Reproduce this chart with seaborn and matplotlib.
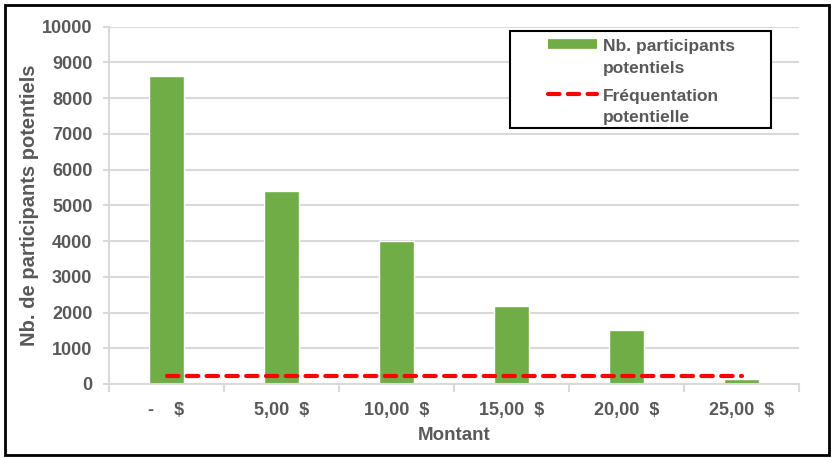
import matplotlib
matplotlib.use("Agg")
import matplotlib.pyplot as plt
from matplotlib.lines import Line2D
from matplotlib.patches import Rectangle
from matplotlib.legend_handler import HandlerLine2D
import numpy as np
import pandas as pd
import seaborn as sns

# Amount categories (accounting format labels)
montants = ["-    $", "5,00  $", "10,00  $", "15,00  $", "20,00  $", "25,00  $"]
# Potential participants per amount
participants = [8620, 5400, 4000, 2180, 1510, 130]
# Potential attendance (flat level)
frequentation = [210, 210, 210, 210, 210, 210]

sns.set_theme(style="white")
plt.rcParams["font.family"] = ["Liberation Sans", "DejaVu Sans"]
plt.rcParams["font.weight"] = "bold"

TEXT = "#595959"
GRID = "#d9d9d9"
GREEN = "#70ad47"
RED = "#ff0000"
DASH = (0, (2.75, 2.0))

W, H = 840, 458

df = pd.DataFrame({"Montant": montants, "Participants": participants,
                   "pos": np.arange(len(montants)), "Frequentation": frequentation})

fig = plt.figure(figsize=(W / 100, H / 100), dpi=100)
ax = fig.add_axes([109 / W, 74 / H, 690 / W, 357.3 / H])

sns.barplot(data=df, x="Montant", y="Participants", color=GREEN, width=0.31,
            saturation=1, ax=ax, zorder=2)
sns.lineplot(data=df, x="pos", y="Frequentation", color=RED, linewidth=3,
             linestyle=DASH, dash_capstyle="round", ax=ax, zorder=3)

ax.set_xlim(-0.5, len(montants) - 0.5)
ax.set_ylim(0, 10000)
ax.set_yticks(np.arange(0, 10001, 1000))
ax.yaxis.grid(True, color=GRID, linewidth=1.5, zorder=0)
ax.xaxis.grid(False)

for side in ["top", "right"]:
    ax.spines[side].set_visible(False)
ax.spines["left"].set_color(GRID)
ax.spines["left"].set_linewidth(1.5)
ax.spines["bottom"].set_color(GRID)
ax.spines["bottom"].set_linewidth(1.5)

ax.set_xticks(np.arange(len(montants)))
ax.set_xticklabels(montants)
ax.tick_params(axis="x", which="major", length=0, pad=13, labelsize=13, labelcolor=TEXT)
ax.set_xticks(np.arange(len(montants) + 1) - 0.5, minor=True)
ax.tick_params(axis="x", which="minor", length=6, width=1.5, color=GRID, bottom=True)
ax.tick_params(axis="y", length=4, width=1.5, color=GRID, labelsize=13,
               labelcolor=TEXT, pad=8, left=True)
for lbl in ax.get_xticklabels() + ax.get_yticklabels():
    lbl.set_fontweight("bold")

ax.set_xlabel("Montant", fontsize=13.5, color=TEXT, fontweight="bold", labelpad=6)
ax.set_ylabel("Nb. de participants potentiels", fontsize=14.5, color=TEXT,
              fontweight="bold", labelpad=2)


class FirstLineHandler(HandlerLine2D):
    """Legend handle aligned with the first line of a two-line label."""

    def create_artists(self, legend, orig_handle, xdescent, ydescent, width,
                       height, fontsize, trans):
        artists = super().create_artists(legend, orig_handle, xdescent, ydescent,
                                         width, height, fontsize, trans)
        for a in artists:
            a.set_ydata(np.asarray(a.get_ydata(), dtype=float) + 0.75 * fontsize)
        return artists


handles = [
    Line2D([0], [0], color=GREEN, linewidth=7, solid_capstyle="butt"),
    Line2D([0], [0], color=RED, linewidth=3, linestyle=DASH, dash_capstyle="round"),
]
labels = ["Nb. participants\npotentiels", "Fréquentation\npotentielle"]
leg = fig.legend(handles, labels, loc="upper left",
                 bbox_to_anchor=(548 / W, 1 - 39 / H),
                 frameon=False, fontsize=12.5, handlelength=2.8,
                 handletextpad=0.35, borderpad=0, labelspacing=0.75,
                 borderaxespad=0,
                 handler_map={Line2D: FirstLineHandler()})
for t in leg.get_texts():
    t.set_color(TEXT)
    t.set_fontweight("bold")
    t.set_linespacing(1.55)

# Legend frame
fig.patches.append(Rectangle((510 / W, 1 - 128 / H), 261 / W, 97 / H,
                             transform=fig.transFigure, fill=True, facecolor="white",
                             edgecolor="black", linewidth=1.5, zorder=4))
leg.set_zorder(5)

# Outer chart frame
fig.patches.append(Rectangle((5 / W, 3 / H), 824 / W, 450 / H, transform=fig.transFigure,
                             fill=False, edgecolor="black", linewidth=2))

fig.savefig("out.png", dpi=100)
